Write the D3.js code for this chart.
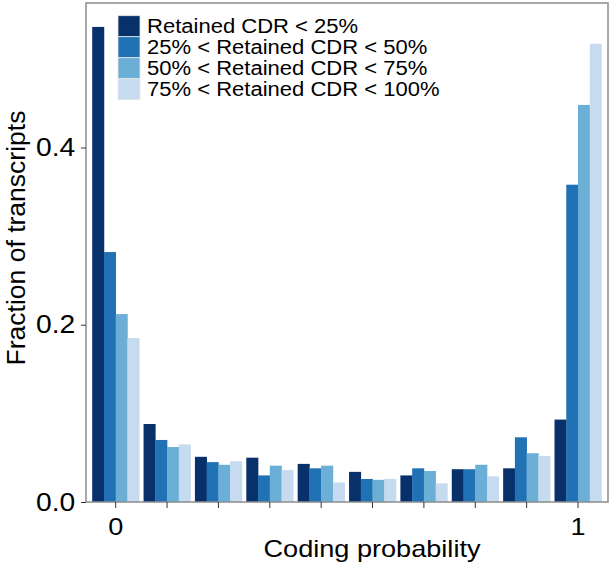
<!DOCTYPE html>
<html>
<head>
<meta charset="utf-8">
<script src="https://cdn.jsdelivr.net/npm/d3@7"></script>
<style>
  body { margin: 0; background: #fff; }
  text { font-family: "Liberation Sans", Arial, sans-serif; fill: #000; }
</style>
</head>
<body>
<div id="chart"></div>
<script>
// coding probability bins (0 .. 1), label only on the ends
var bins = ["0", "", "", "", "", "", "", "", "", "1"];
var seriesNames = [
  "Retained CDR < 25%",
  "25% < Retained CDR < 50%",
  "50% < Retained CDR < 75%",
  "75% < Retained CDR < 100%"
];
var fills = ["#08306b", "#2171b5", "#6baed6", "#c6dbef"];

// fraction of transcripts per bin, one array per series
var cdr25  = [0.536, 0.088, 0.051, 0.050, 0.043, 0.034, 0.030, 0.037, 0.038, 0.093];
var cdr50  = [0.282, 0.070, 0.045, 0.030, 0.038, 0.026, 0.038, 0.037, 0.073, 0.358];
var cdr75  = [0.212, 0.062, 0.042, 0.041, 0.041, 0.025, 0.035, 0.042, 0.055, 0.448];
var cdr100 = [0.185, 0.065, 0.046, 0.036, 0.022, 0.026, 0.021, 0.029, 0.052, 0.517];
var yTicks = [0, 0.2, 0.4];

var series = [cdr25, cdr50, cdr75, cdr100];

var width = 609, height = 565;
var panel = { left: 86, right: 608, top: 3, bottom: 502 };
// the lettering in the original is a little wider than plain Arial
var stretch = 1.13;

var svg = d3.select("#chart").append("svg")
  .attr("width", width)
  .attr("height", height);

var y = d3.scaleLinear()
  .domain([0, 0.563])
  .range([panel.bottom, panel.top]);

var x = d3.scaleBand()
  .domain(d3.range(bins.length))
  .range([90.0, 603.7])
  .paddingInner(0.085)
  .paddingOuter(0.0425);

var xSub = d3.scaleBand()
  .domain(d3.range(series.length))
  .range([0, x.bandwidth()]);

// bars
var groups = svg.selectAll(".bin")
  .data(bins)
  .enter()
  .append("g")
  .attr("class", "bin")
  .attr("transform", (d, i) => `translate(${x(i)},0)`);

groups.selectAll("rect")
  .data((d, i) => series.map((s, k) => ({ k: k, v: s[i] })))
  .enter()
  .append("rect")
  .attr("x", d => xSub(d.k))
  .attr("y", d => y(d.v))
  .attr("width", xSub.bandwidth() + 0.3)
  .attr("height", d => y(0) - y(d.v))
  .attr("fill", d => fills[d.k]);

// panel box
svg.append("rect")
  .attr("x", panel.left)
  .attr("y", panel.top)
  .attr("width", panel.right - panel.left)
  .attr("height", panel.bottom - panel.top)
  .attr("fill", "none")
  .attr("stroke", "#8c8c8c")
  .attr("stroke-width", 1.5);

// y axis
var yAxis = svg.append("g")
  .attr("transform", `translate(${panel.left},0)`)
  .call(d3.axisLeft(y).tickValues(yTicks).tickFormat(d3.format(".1f")).tickSize(5).tickPadding(4.5));
yAxis.select(".domain").remove();
yAxis.selectAll(".tick line").attr("stroke", "#333");
yAxis.selectAll(".tick text")
  .style("font-size", "25px")
  .style("font-family", "'Liberation Sans', Arial, sans-serif")
  .attr("fill", "#000")
  .attr("transform", `scale(${stretch},1)`);

// x axis
var xAxis = svg.append("g")
  .attr("transform", `translate(0,${panel.bottom})`)
  .call(d3.axisBottom(x).tickFormat((d, i) => bins[i]).tickSize(6).tickPadding(10));
xAxis.select(".domain").remove();
xAxis.selectAll(".tick line").attr("stroke", "#333");
xAxis.selectAll(".tick text")
  .style("font-size", "24px")
  .style("font-family", "'Liberation Sans', Arial, sans-serif")
  .attr("fill", "#000")
  .attr("transform", `scale(${stretch},1)`);

// axis titles
svg.append("text")
  .attr("transform", `translate(372,557) scale(${stretch},1)`)
  .attr("text-anchor", "middle")
  .style("font-size", "24px")
  .text("Coding probability");

svg.append("text")
  .attr("transform", "translate(25,238) rotate(-90)")
  .attr("text-anchor", "middle")
  .style("font-size", "26.5px")
  .text("Fraction of transcripts");

// legend
var legend = svg.append("g")
  .attr("transform", "translate(118,15.7)");

var entry = legend.selectAll(".entry")
  .data(seriesNames)
  .enter()
  .append("g")
  .attr("class", "entry")
  .attr("transform", (d, i) => `translate(0,${i * 21})`);

entry.append("rect")
  .attr("width", 22)
  .attr("height", 21)
  .attr("fill", (d, i) => fills[i])
  .attr("stroke", "#e6e6e6")
  .attr("stroke-width", 0.8);

entry.append("text")
  .attr("transform", `translate(29,17) scale(${stretch},1)`)
  .style("font-size", "19.5px")
  .text(d => d);
</script>
</body>
</html>
